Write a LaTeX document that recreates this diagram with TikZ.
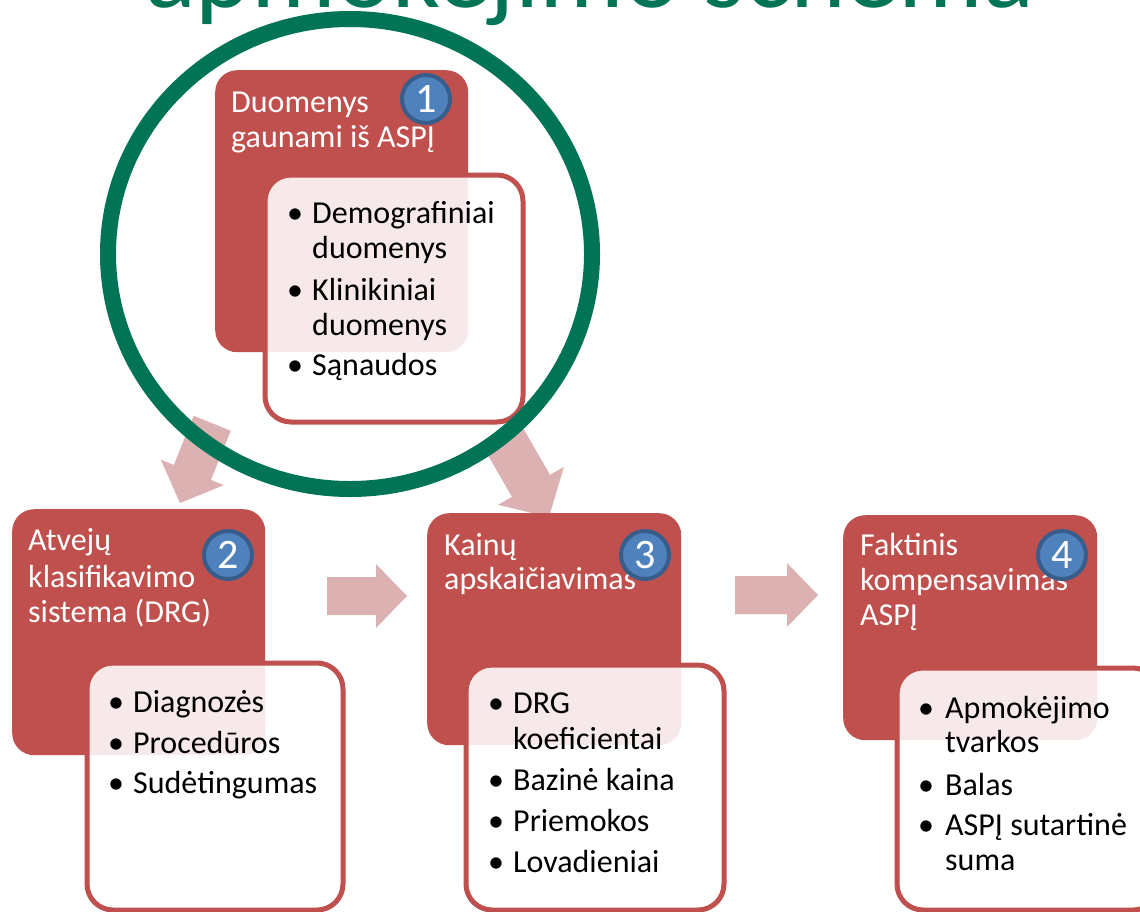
\documentclass[tikz,border=0pt]{standalone}
\usepackage{fontspec}
\setmainfont{Carlito}
\definecolor{boxred}{HTML}{C0504D}
\definecolor{arrowpink}{HTML}{DBB2B1}
\definecolor{ringgreen}{HTML}{007455}
\definecolor{numblue}{HTML}{4F81BD}
\definecolor{numedge}{HTML}{385D8A}
\newcommand\tline[4]{\node[#1] (#2) at (#3) {#4};}
\begin{document}
\begin{tikzpicture}[x=1pt,y=-1pt,
  redbox/.style={fill=boxred, rounded corners=22pt, anchor=north west, inner sep=0pt},
  whitebox/.style={draw=boxred, line width=5pt, fill=white, fill opacity=0.88, rounded corners=26pt, anchor=north west, inner sep=0pt},
  flowarrow/.style={fill=arrowpink},
  numcirc/.style={circle, fill=numblue, draw=numedge, line width=4pt, minimum size=48pt, inner sep=0pt, text=white, font=\fontsize{42}{42}\selectfont},
  headtxt/.style={anchor=base west, text=white, font=\fontsize{32}{38}\selectfont, inner sep=0pt},
  bodytxt/.style={anchor=base west, text=black, font=\fontsize{32}{38}\selectfont, inner sep=0pt},
  titletxt/.style={anchor=base west, text=ringgreen, font=\fontsize{106}{110}\selectfont, inner sep=0pt}
]
\useasboundingbox (0,0) rectangle (1140,911);
\clip (0,0) rectangle (1140,911);
\fill[white] (0,0) rectangle (1140,911);

% arrows
\begin{scope}[shift={(180,503)}, rotate=-112]
\fill[flowarrow] (0,0) -- (-33,34) -- (-33,20) -- (-86,20) -- (-86,-20) -- (-33,-20) -- (-33,-34) -- cycle;
\end{scope}
\begin{scope}[shift={(549,517)}, rotate=-60]
\fill[flowarrow] (0,0) -- (-36,38) -- (-36,22) -- (-92,22) -- (-92,-22) -- (-36,-22) -- (-36,-38) -- cycle;
\end{scope}
\begin{scope}[shift={(407,596)}]
\fill[flowarrow] (0,0) -- (-31,32) -- (-31,19) -- (-80,19) -- (-80,-19) -- (-31,-19) -- (-31,-32) -- cycle;
\end{scope}
\begin{scope}[shift={(818,595)}]
\fill[flowarrow] (0,0) -- (-31,32) -- (-31,19) -- (-83,19) -- (-83,-19) -- (-31,-19) -- (-31,-32) -- cycle;
\end{scope}

% boxes
\node[redbox, minimum width=253pt, minimum height=282pt] (r1) at (215,70) {};
\node[whitebox, minimum width=258pt, minimum height=247pt] (w1) at (262.5,172.5) {};
\node[redbox, minimum width=253pt, minimum height=246pt] (r2) at (12,509) {};
\node[whitebox, minimum width=256pt, minimum height=247pt] (w2) at (84.5,660.5) {};
\node[redbox, minimum width=254pt, minimum height=232pt] (r3) at (427,513) {};
\node[whitebox, minimum width=258pt, minimum height=245pt] (w3) at (463.5,662.5) {};
\node[redbox, minimum width=254pt, minimum height=225pt] (r4) at (843,515) {};
\node[whitebox, minimum width=262pt, minimum height=242pt] (w4) at (894.5,665.5) {};

% box 1 text
\tline{headtxt}{h1a}{231,112}{Duomenys}
\tline{headtxt}{h1b}{231,147}{gaunami iš ASPĮ}
\tline{bodytxt}{b1a}{287,223}{•}
\tline{bodytxt}{t1a}{312,223}{Demografiniai}
\tline{bodytxt}{t1b}{312,258}{duomenys}
\tline{bodytxt}{b1c}{287,300}{•}
\tline{bodytxt}{t1c}{312,300}{Klinikiniai}
\tline{bodytxt}{t1d}{312,335}{duomenys}
\tline{bodytxt}{b1e}{287,375}{•}
\tline{bodytxt}{t1e}{312,375}{Sąnaudos}

% box 2 text
\tline{headtxt}{h2a}{28,550}{Atvejų}
\tline{headtxt}{h2b}{28,587}{klasifikavimo}
\tline{headtxt}{h2c}{28,622}{sistema (DRG)}
\tline{bodytxt}{b2a}{108,712}{•}
\tline{bodytxt}{t2a}{133,712}{Diagnozės}
\tline{bodytxt}{b2b}{108,753}{•}
\tline{bodytxt}{t2b}{133,753}{Procedūros}
\tline{bodytxt}{b2c}{108,793}{•}
\tline{bodytxt}{t2c}{133,793}{Sudėtingumas}

% box 3 text
\tline{headtxt}{h3a}{444,555}{Kainų}
\tline{headtxt}{h3b}{444,589}{apskaičiavimas}
\tline{bodytxt}{b3a}{488,713}{•}
\tline{bodytxt}{t3a}{513,713}{DRG}
\tline{bodytxt}{t3b}{513,749}{koeficientai}
\tline{bodytxt}{b3c}{488,790}{•}
\tline{bodytxt}{t3c}{513,790}{Bazinė kaina}
\tline{bodytxt}{b3d}{488,831}{•}
\tline{bodytxt}{t3d}{513,831}{Priemokos}
\tline{bodytxt}{b3e}{488,872}{•}
\tline{bodytxt}{t3e}{513,872}{Lovadieniai}

% box 4 text
\tline{headtxt}{h4a}{860,555}{Faktinis}
\tline{headtxt}{h4b}{860,590}{kompensavimas}
\tline{headtxt}{h4c}{860,625}{ASPĮ}
\tline{bodytxt}{b4a}{918,718}{•}
\tline{bodytxt}{t4a}{945,718}{Apmokėjimo}
\tline{bodytxt}{t4b}{945,752}{tvarkos}
\tline{bodytxt}{b4c}{918,795}{•}
\tline{bodytxt}{t4c}{945,795}{Balas}
\tline{bodytxt}{b4d}{918,835}{•}
\tline{bodytxt}{t4d}{945,835}{ASPĮ sutartinė}
\tline{bodytxt}{t4e}{945,870}{suma}

% number circles
\node[numcirc] (n1) at (426,99) {1};
\node[numcirc] (n2) at (228,555) {2};
\node[numcirc] (n3) at (645,555) {3};
\node[numcirc] (n4) at (1062,555) {4};

% green ring
\draw[ringgreen, line width=16pt] (350,254) ellipse [x radius=242pt, y radius=235pt];

% title (cut off at top)
\node[titletxt] (title) at (145,7) {apmokėjimo schema};
\end{tikzpicture}
\end{document}
